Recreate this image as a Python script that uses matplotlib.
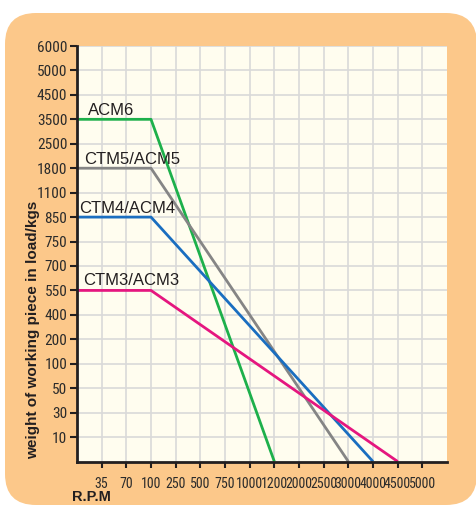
import matplotlib
matplotlib.use("Agg")
import matplotlib.pyplot as plt
from matplotlib.patches import FancyBboxPatch
from matplotlib import font_manager
from matplotlib.font_manager import FontProperties

# ---- data ----
y_tick_values = [10, 30, 50, 100, 200, 400, 550, 700, 750, 850, 1100, 1800, 2500, 3500, 4500, 5000, 6000]
x_tick_values = [35, 70, 100, 250, 500, 750, 1000, 1200, 2000, 2500, 3000, 4000, 4500, 5000]

series_names = ["ACM6", "CTM5/ACM5", "CTM4/ACM4", "CTM3/ACM3"]
acm6_rpm = [0, 100, 1200]
acm6_load = [3500, 3500, 0]
acm5_rpm = [0, 100, 3000]
acm5_load = [1800, 1800, 0]
acm4_rpm = [0, 100, 4000]
acm4_load = [850, 850, 0]
acm3_rpm = [0, 100, 4500]
acm3_load = [550, 550, 0]
series_colors = ["#1DB04B", "#858585", "#1A6EC0", "#E5167F"]

y_label = "weight of working piece in load/kgs"
x_label = "R.P.M"

# ---- find a condensed font if one exists ----
cond_path = None
prefs = ["LiberationSansNarrow-Regular", "RobotoCondensed-Regular", "DejaVuSansCondensed.ttf",
         "OpenSans_Condensed-Regular", "OpenSansCondensed", "Narrow", "Condensed"]
files = [f.fname for f in font_manager.fontManager.ttflist]
for p in prefs:
    for fn in files:
        base = fn.split("/")[-1]
        if p in base and "Bold" not in base and "Italic" not in base and "Oblique" not in base \
                and "Mono" not in base and "Serif" not in base and "Light" not in base:
            cond_path = fn
            break
    if cond_path:
        break

if cond_path:
    yfp = FontProperties(fname=cond_path, size=11)
    xfp = FontProperties(fname=cond_path, size=10)
else:
    yfp = FontProperties(family="Liberation Sans", size=9.5)
    xfp = FontProperties(family="Liberation Sans", size=7.5)


def xpos(v):
    return -1 if v == 0 else x_tick_values.index(v)


def ypos(v):
    return -1 if v == 0 else y_tick_values.index(v)


W, H = 477, 505
fig = plt.figure(figsize=(W / 100, H / 100), dpi=100)
fig.patch.set_facecolor("white")

bg = FancyBboxPatch((5 / W, 0), (W - 5) / W, (H - 13) / H,
                    boxstyle="round,pad=0,rounding_size=0.065",
                    transform=fig.transFigure, facecolor="#FCC88A",
                    edgecolor="none", zorder=-10, mutation_aspect=W / H)
fig.add_artist(bg)

ax = fig.add_axes([77 / W, 43 / H, 370 / W, 416 / H])
ax.set_zorder(1)
ax.set_facecolor("#FFFDEF")
ax.set_xlim(-1, 14)
ax.set_ylim(-1.02, 16)

for i in range(len(y_tick_values)):
    ax.axhline(i, color="#D9D9D9", lw=1.2, zorder=1)
for i in range(len(x_tick_values)):
    ax.axvline(i, color="#D9D9D9", lw=1.2, zorder=1)

all_rpm = [acm6_rpm, acm5_rpm, acm4_rpm, acm3_rpm]
all_load = [acm6_load, acm5_load, acm4_load, acm3_load]
label_x = [-0.55, -0.71, -0.92, -0.76]
label_off = [3, 3, 3, 4]
for name, rpm, load, c, lx, off in zip(series_names, all_rpm, all_load, series_colors, label_x, label_off):
    xs = [xpos(v) for v in rpm]
    ys = [ypos(v) for v in load]
    ax.plot(xs, ys, color=c, lw=2.0, zorder=3, clip_on=False, solid_capstyle="butt")
    ax.annotate(name, (lx, ys[0]), xytext=(0, off), textcoords="offset points",
                ha="left", va="baseline", fontsize=12, family="Liberation Sans",
                color="#231F20", zorder=4)

ax.set_yticks(range(len(y_tick_values)))
ax.set_yticklabels([str(v) for v in y_tick_values])
ax.set_xticks(range(len(x_tick_values)))
ax.set_xticklabels([str(v) for v in x_tick_values])
for lab in ax.get_yticklabels():
    lab.set_fontproperties(yfp)
    lab.set_color("#2B2B2B")
for lab in ax.get_xticklabels():
    lab.set_fontproperties(xfp)
    lab.set_color("#2B2B2B")

ax.tick_params(axis="y", direction="out", length=5, width=1.5, pad=2, color="#231F20")
ax.tick_params(axis="x", direction="out", length=4, width=1.5, pad=7, color="#231F20")

for s in ["top", "right"]:
    ax.spines[s].set_visible(False)
for s in ["left", "bottom"]:
    ax.spines[s].set_linewidth(2.0)
    ax.spines[s].set_color("#231F20")
    ax.spines[s].set_zorder(5)

fig.text(33 / W, 1 - 330 / H, y_label, rotation=90, ha="center", va="center",
         fontsize=11, fontweight="bold", family="Liberation Sans", color="#231F20")
fig.text(72 / W, 1 - 497 / H, x_label, ha="left", va="center",
         fontsize=10.5, fontweight="bold", family="Liberation Sans", color="#231F20")

fig.savefig("out.png", dpi=100)
